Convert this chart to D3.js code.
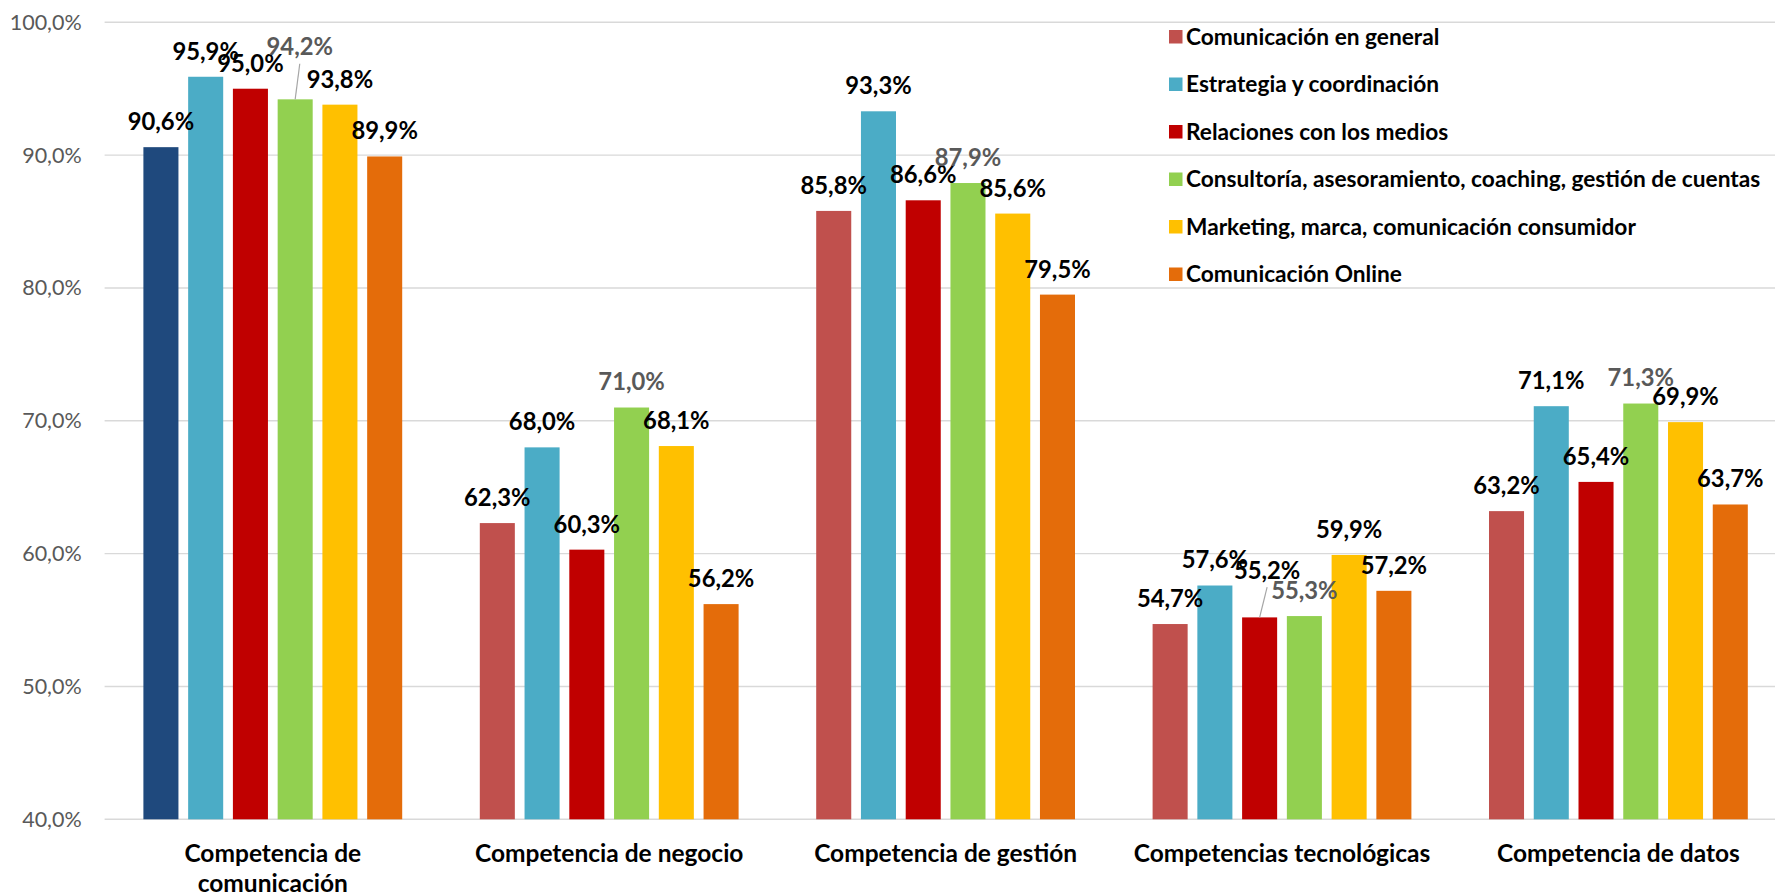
<!DOCTYPE html>
<html>
<head>
<meta charset="utf-8">
<script src="https://cdn.jsdelivr.net/npm/d3@7"></script>
<style>
  html, body { margin: 0; padding: 0; background: #fff; }
  svg { display: block; }
  text { font-family: Lato, "Open Sans", sans-serif; }
</style>
</head>
<body>
<svg id="chart" width="1775" height="896"></svg>
<script>
// ---------- DATA ----------
const categories = [
  "Competencia de comunicación",
  "Competencia de negocio",
  "Competencia de gestión",
  "Competencias tecnológicas",
  "Competencia de datos"
];
const seriesNames = [
  "Comunicación en general",
  "Estrategia y coordinación",
  "Relaciones con los medios",
  "Consultoría, asesoramiento, coaching, gestión de cuentas",
  "Marketing, marca, comunicación consumidor",
  "Comunicación Online"
];
const comunicacionGeneral   = [90.6, 62.3, 85.8, 54.7, 63.2];
const estrategiaCoord       = [95.9, 68.0, 93.3, 57.6, 71.1];
const relacionesMedios      = [95.0, 60.3, 86.6, 55.2, 65.4];
const consultoria           = [94.2, 71.0, 87.9, 55.3, 71.3];
const marketingMarca        = [93.8, 68.1, 85.6, 59.9, 69.9];
const comunicacionOnline    = [89.9, 56.2, 79.5, 57.2, 63.7];
const seriesValues = [comunicacionGeneral, estrategiaCoord, relacionesMedios,
                      consultoria, marketingMarca, comunicacionOnline];
const yTicks = [40, 50, 60, 70, 80, 90, 100];

// ---------- STYLE / LAYOUT ----------
const seriesColors = ["#C0504D", "#4BACC6", "#C00000", "#92D050", "#FFC000", "#E46C0A"];
const pointColorOverride = { "0-0": "#1F497D" };          // series-category
const labelColors = ["#000000", "#000000", "#000000", "#595959", "#000000", "#000000"];
const labelMoves = { "3-0": { dx: 4.6, dy: -27 }, "2-3": { dx: 7.5, dy: -21.7 } };

const svg = d3.select("#chart");
const plotLeft = 104.6, plotRight = 1786.6, yTop = 22.3, yBottom = 819.3;

const loc = d3.formatLocale({ decimal: ",", thousands: ".", grouping: [3], currency: ["", "€"] });
const fmt = v => loc.format(".1f")(v) + "%";

const x0 = d3.scaleBand().domain(categories).range([plotLeft, plotRight]).padding(0);
const x1 = d3.scaleBand().domain(d3.range(seriesNames.length))
  .range([0, x0.bandwidth()]).paddingInner(0.217).paddingOuter(0.867);
const y = d3.scaleLinear().domain([40, 100]).range([yBottom, yTop]);

// gridlines
svg.append("g").selectAll("line").data(yTicks).join("line")
  .attr("x1", plotLeft).attr("x2", plotRight)
  .attr("y1", d => y(d)).attr("y2", d => y(d))
  .attr("stroke", "#D9D9D9").attr("stroke-width", 1.4);

// y axis labels
const yAxis = d3.axisLeft(y).tickValues(yTicks).tickFormat(fmt).tickSize(0).tickPadding(0);
const gy = svg.append("g").attr("transform", "translate(81.7,0)").call(yAxis);
gy.select(".domain").remove();
gy.selectAll("text").attr("font-size", 21.5).attr("fill", "#595959")
  .attr("font-family", "Lato, sans-serif");

// bars
const flat = [];
seriesValues.forEach((vals, s) => vals.forEach((v, c) => flat.push({ s, c, v })));

svg.append("g").selectAll("rect").data(flat).join("rect")
  .attr("x", d => x0(categories[d.c]) + x1(d.s))
  .attr("width", x1.bandwidth())
  .attr("y", d => y(d.v))
  .attr("height", d => y(40) - y(d.v))
  .attr("fill", d => pointColorOverride[d.s + "-" + d.c] || seriesColors[d.s]);

// labels
const lg = svg.append("g");
flat.forEach(d => {
  const cx = x0(categories[d.c]) + x1(d.s) + x1.bandwidth() / 2;
  const top = y(d.v);
  const mv = labelMoves[d.s + "-" + d.c];
  let lx = cx, ly = top - 25.6;
  if (mv) {
    lx = cx + mv.dx; ly = ly + mv.dy;
    lg.append("line").attr("x1", cx).attr("y1", top).attr("x2", lx).attr("y2", ly + 17)
      .attr("stroke", "#A6A6A6").attr("stroke-width", 1.2);
  }
  lg.append("text").attr("x", lx).attr("y", ly).attr("dy", "0.36em")
    .attr("text-anchor", "middle").attr("font-size", 23.8).attr("font-weight", 700)
    .attr("fill", labelColors[d.s]).text(fmt(d.v));
});

// x axis category labels (wrapped)
const xg = svg.append("g");
categories.forEach(cat => {
  const cx = x0(cat) + x0.bandwidth() / 2;
  const t = xg.append("text").attr("x", cx).attr("y", 861.7)
    .attr("text-anchor", "middle").attr("font-size", 24.5).attr("font-weight", 700).attr("fill", "#000");
  const words = cat.split(" ");
  let line = [];
  let tspan = t.append("tspan").attr("x", cx).attr("dy", 0);
  words.forEach(w => {
    line.push(w);
    tspan.text(line.join(" "));
    if (tspan.node().getComputedTextLength() > 310 && line.length > 1) {
      line.pop();
      tspan.text(line.join(" "));
      line = [w];
      tspan = t.append("tspan").attr("x", cx).attr("dy", 30).text(w);
    }
  });
});

// legend
const leg = svg.append("g");
seriesNames.forEach((name, i) => {
  const cy = 36.7 + i * 47.5;
  leg.append("rect").attr("x", 1169).attr("y", cy - 6.7).attr("width", 13.5).attr("height", 13.5)
    .attr("fill", seriesColors[i]);
  leg.append("text").attr("x", 1186).attr("y", cy).attr("dy", "0.36em")
    .attr("font-size", 22.7).attr("font-weight", 700).attr("fill", "#000").text(name);
});
</script>
</body>
</html>
